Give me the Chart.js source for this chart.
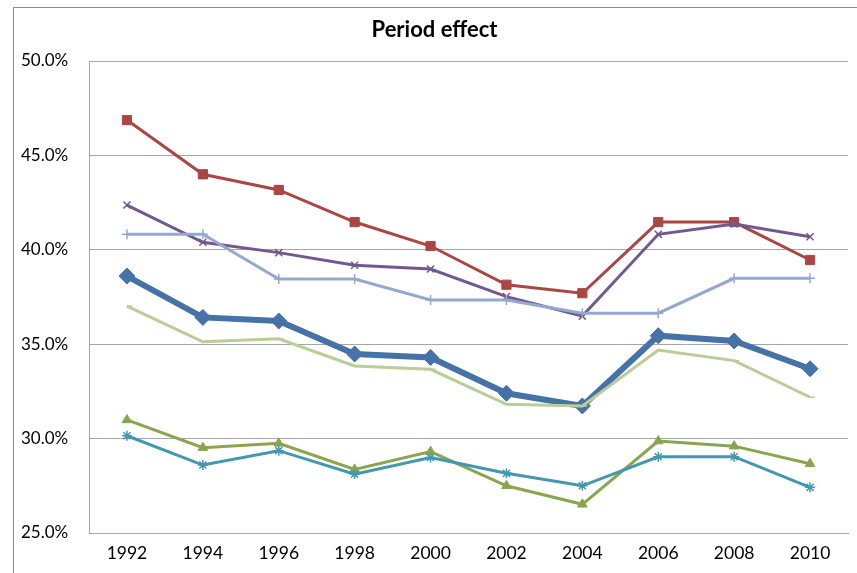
<!DOCTYPE html>
<html>
<head>
<meta charset="utf-8">
<script src="https://cdn.jsdelivr.net/npm/chart.js@4/dist/chart.umd.min.js"></script>
<style>
  html, body { margin: 0; padding: 0; background: #fff; }
  #wrap { width: 857px; height: 573px; position: relative; }
</style>
</head>
<body>
<div id="wrap"><canvas id="chart-period"></canvas></div>
<script>
const years = ['1992', '1994', '1996', '1998', '2000', '2002', '2004', '2006', '2008', '2010'];
const yTicks = [25, 30, 35, 40, 45, 50];

const blueSeries = [38.61, 36.42, 36.23, 34.48, 34.30, 32.40, 31.73, 35.45, 35.17, 33.70];
const redSeries = [46.87, 44.00, 43.17, 41.47, 40.20, 38.15, 37.70, 41.47, 41.47, 39.46];
const greenSeries = [30.99, 29.52, 29.75, 28.37, 29.31, 27.50, 26.52, 29.87, 29.60, 28.67];
const purpleSeries = [42.37, 40.40, 39.85, 39.18, 38.98, 37.52, 36.49, 40.82, 41.37, 40.69];
const tealSeries = [30.15, 28.60, 29.36, 28.12, 29.00, 28.16, 27.50, 29.04, 29.04, 27.42];
const lightBlueSeries = [40.82, 40.82, 38.45, 38.45, 37.34, 37.34, 36.64, 36.64, 38.49, 38.49];
const lightGreenSeries = [37.02, 35.13, 35.29, 33.85, 33.67, 31.82, 31.73, 34.69, 34.13, 32.19];

const FONT = 'Lato, "Open Sans", sans-serif';

// outer frame of the chart object (clipped at right and bottom like the source)
const framePlugin = {
  id: 'frame',
  beforeDraw(chart) {
    const ctx = chart.ctx;
    ctx.save();
    ctx.fillStyle = '#fff';
    ctx.fillRect(0, 0, chart.width, chart.height);
    ctx.strokeStyle = '#8c8c8c';
    ctx.lineWidth = 1;
    ctx.strokeRect(13.5, 7.5, 900, 600);
    ctx.restore();
  }
};

function line(data, color, width, style, radius, order) {
  return {
    data,
    borderColor: color,
    backgroundColor: color,
    borderWidth: width,
    pointStyle: style,
    pointRadius: radius,
    pointHoverRadius: radius,
    pointBorderColor: color,
    pointBackgroundColor: color,
    pointBorderWidth: style === 'crossRot' || style === 'cross' || style === 'star' || style === 'dash' ? 1.5 : 1,
    tension: 0,
    order
  };
}

new Chart(document.getElementById('chart-period'), {
  type: 'line',
  data: {
    labels: years,
    datasets: [
      line(blueSeries, '#4572A7', 6, 'rectRot', 8, 7),
      line(redSeries, '#AA4643', 3, 'rect', 6.5, 6),
      line(greenSeries, '#89A54E', 3, 'triangle', 5.5, 5),
      line(purpleSeries, '#71588F', 3, 'crossRot', 5, 4),
      line(tealSeries, '#4198AF', 3, 'star', 5, 3),
      line(lightBlueSeries, '#93A9CF', 3, 'cross', 5, 2),
      line(lightGreenSeries, '#B9CD96', 3, 'dash', 5, 1)
    ]
  },
  plugins: [framePlugin],
  options: {
    responsive: true,
    maintainAspectRatio: false,
    animation: false,
    layout: { padding: { left: 21, right: 9, top: 0, bottom: 0 } },
    plugins: {
      legend: { display: false },
      tooltip: { enabled: false },
      title: {
        display: true,
        text: 'Period effect',
        color: '#000',
        font: { family: FONT, size: 22, weight: 'bold' },
        padding: { top: 17, bottom: 17.6 }
      }
    },
    scales: {
      x: {
        offset: true,
        grid: { display: false, drawTicks: false },
        border: { display: true, color: '#a6a6a6', width: 1 },
        ticks: { color: '#000', font: { family: FONT, size: 17.5 }, padding: 10, maxRotation: 0 },
        afterFit: (s) => { s.height = 40; }
      },
      y: {
        min: 25,
        max: 50,
        afterBuildTicks: (s) => { s.ticks = yTicks.map(v => ({ value: v })); },
        grid: { color: '#a6a6a6', lineWidth: 1, drawTicks: false },
        border: { display: true, color: '#a6a6a6', width: 1 },
        ticks: {
          color: '#000',
          font: { family: FONT, size: 17 },
          crossAlign: 'far',
          padding: 8,
          callback: v => v.toFixed(1) + '%'
        },
        afterFit: (s) => { s.width = 68; }
      }
    }
  }
});
</script>
</body>
</html>
